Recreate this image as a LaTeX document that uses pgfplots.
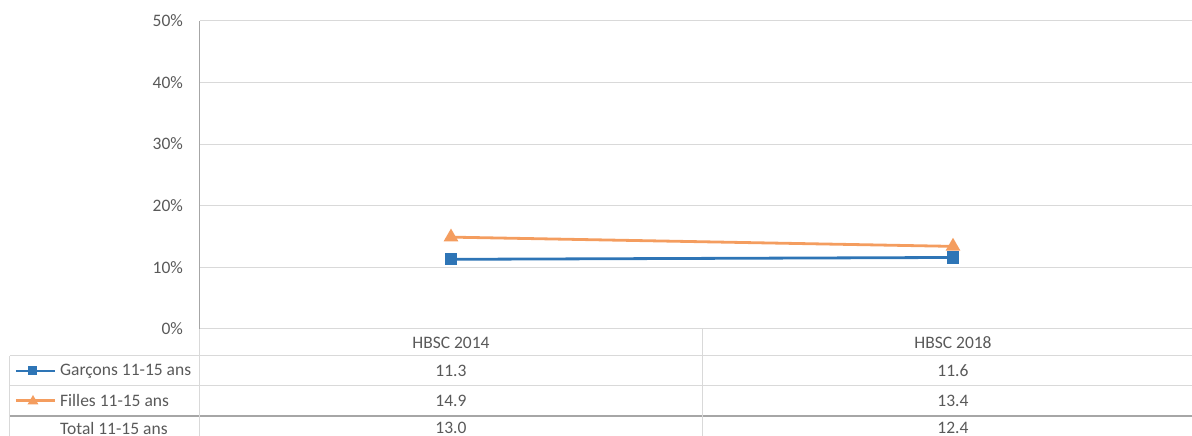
\documentclass[border=0pt]{standalone}
\usepackage{pgfplots}
\pgfplotsset{compat=1.18}
\usepackage{fontspec}
\setmainfont{Carlito}
\definecolor{serblue}{RGB}{46,117,182}
\definecolor{serorange}{RGB}{244,157,95}
\definecolor{gridgray}{RGB}{217,217,217}
\definecolor{txtgray}{RGB}{89,89,89}
\definecolor{darkline}{RGB}{166,166,166}
\begin{document}
\begin{tikzpicture}[x=1pt,y=1pt]
\fontsize{17.5}{20}\selectfont
\useasboundingbox (-200,-107) rectangle (992,329);
\begin{axis}[
  at={(0,0)}, anchor=south west,
  scale only axis, width=1004pt, height=308.3pt,
  xmin=-0.5, xmax=1.5, ymin=0, ymax=50,
  xtick=\empty,
  ytick={0,10,20,30,40,50},
  yticklabel={\pgfmathprintnumber{\tick}\%},
  /pgf/number format/assume math mode=true,
  ymajorgrids, grid style={gridgray, line width=1pt},
  axis x line*=bottom, axis y line*=left,
  x axis line style={gridgray, line width=1pt, -},
  y axis line style={gray!70, line width=1pt, -},
  major tick length=0pt,
  tick label style={font=\fontsize{17.5}{20}\selectfont, text=txtgray},
  yticklabel style={xshift=-11pt},
  clip=false,
]
\addplot[serblue, line width=2.8pt, mark=square*, mark size=4.7pt, mark options={solid}] coordinates {(0,11.3) (1,11.6)};
\addplot[serorange, line width=2.8pt, mark=triangle*, mark size=5.8pt, mark options={solid}] coordinates {(0,14.9) (1,13.4)};
\end{axis}
% data table
\draw[gridgray, line width=1pt] (-190,-27) -- (992,-27);
\draw[gridgray, line width=1pt] (-190,-57) -- (992,-57);
\draw[darkline, line width=1.5pt] (-190,-87) -- (992,-87);
\draw[gridgray, line width=1pt] (-190,-27) -- (-190,-107);
\draw[gridgray, line width=1pt] (0,0) -- (0,-107);
\draw[gridgray, line width=1pt] (502,0) -- (502,-107);
\begin{scope}[every node/.style={text=txtgray, font=\fontsize{17.5}{20}\selectfont, inner sep=0pt}]
\node at (251,-13.5) {HBSC 2014};
\node at (753,-13.5) {HBSC 2018};
\node at (251,-42) {11.3};
\node at (753,-42) {11.6};
\node at (251,-71.5) {14.9};
\node at (753,-71.5) {13.4};
\node at (251,-99) {13.0};
\node at (753,-99) {12.4};
\node[anchor=west] at (-140,-42) {Garçons 11-15 ans};
\node[anchor=west] at (-140,-71.5) {Filles 11-15 ans};
\node[anchor=west] at (-140,-99) {Total 11-15 ans};
\end{scope}
\draw[serblue, line width=2.8pt] (-184,-42) -- (-145,-42);
\fill[serblue] (-171.5,-46.5) rectangle (-162.5,-37.5);
\draw[serorange, line width=2.8pt] (-184,-71.5) -- (-145,-71.5);
\fill[serorange] (-172.5,-75.5) -- (-161.5,-75.5) -- (-167,-66) -- cycle;
\end{tikzpicture}
\end{document}
